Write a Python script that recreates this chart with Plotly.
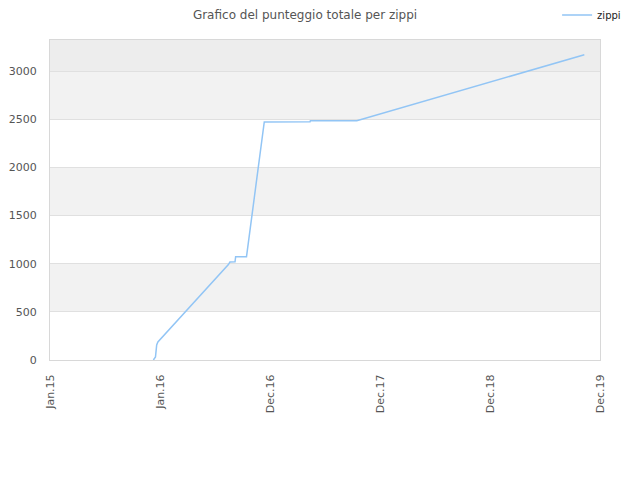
import plotly.graph_objs as go

# punteggio totale di zippi nel tempo
dates = ['2015-12-10', '2015-12-17', '2015-12-21', '2015-12-25', '2016-08-15',
         '2016-08-20', '2016-09-06', '2016-09-08', '2016-10-14', '2016-12-12',
         '2017-05-13', '2017-05-14', '2017-10-15', '2019-11-09']
scores = [0, 31, 156, 187, 991, 1017, 1020, 1072, 1072, 2471, 2474, 2484, 2484, 3169]

tick_dates = ['2015-01-01', '2016-01-01', '2016-12-31', '2017-12-31', '2018-12-31', '2019-12-31']
tick_labels = ['Jan.15', 'Jan.16', 'Dec.16', 'Dec.17', 'Dec.18', 'Dec.19']

fig = go.Figure(data=[go.Scatter(
    x=dates,
    y=scores,
    mode='lines',
    line=dict(color='#92c5f5', width=1.5),
    name='zippi'
)])

# bande alternate dello sfondo
bands = [(500, 1000, '#f2f2f2'), (1500, 2000, '#f2f2f2'), (2500, 3000, '#f2f2f2'), (3000, 3330, '#ededed')]
for y0, y1, col in bands:
    fig.add_shape(type='rect', xref='paper', yref='y', x0=0, x1=1, y0=y0, y1=y1,
                  fillcolor=col, line_width=0, layer='below')

# la pagina ha 8px di margine, quindi la figura e' un po' piu' piccola
fig.update_layout(
    title=dict(text='Grafico del punteggio totale per zippi', x=0.470, xanchor='center',
               xref='container', y=0.985, yanchor='middle', font=dict(size=12, color='#555555')),
    width=632, height=472,
    margin=dict(l=42, r=40, t=32, b=120, autoexpand=False),
    paper_bgcolor='white',
    plot_bgcolor='white',
    font=dict(family='DejaVu Sans', size=11, color='#444444'),
    showlegend=True,
    legend=dict(x=0.922, y=1.078, xanchor='left', yanchor='middle', bgcolor='rgba(0,0,0,0)',
                font=dict(size=10, color='#222222')),
    xaxis=dict(
        type='date', range=['2015-01-01', '2019-12-31'], automargin=False,
        tickmode='array', tickvals=tick_dates, ticktext=tick_labels,
        tickangle=-90, showgrid=False, zeroline=False,
        showline=True, linecolor='#d8d8d8', mirror=True,
        ticks='', ticklabelstandoff=9, tickfont=dict(size=11, color='#555555')
    ),
    yaxis=dict(
        range=[0, 3322], tickvals=[0, 500, 1000, 1500, 2000, 2500, 3000], automargin=False,
        showgrid=True, gridcolor='#e0e0e0', zeroline=False,
        showline=True, linecolor='#d8d8d8', mirror=True,
        ticks='', ticklabelstandoff=10, tickfont=dict(size=11, color='#555555')
    )
)

fig.write_html("out.html")
